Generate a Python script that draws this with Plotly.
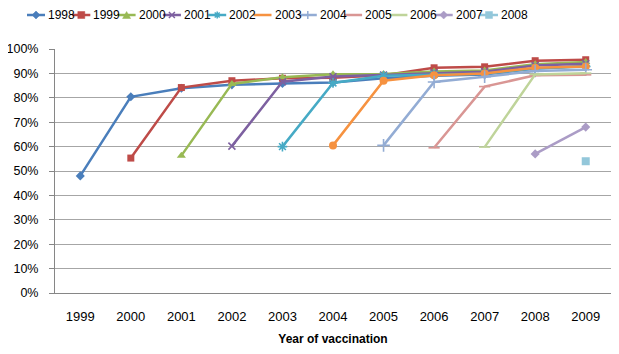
import plotly.graph_objects as go

years = ["1999", "2000", "2001", "2002", "2003", "2004", "2005", "2006", "2007", "2008", "2009"]
series_names = ["1998", "1999", "2000", "2001", "2002", "2003", "2004", "2005", "2006", "2007", "2008"]

N = None
s1998 = [48.0, 80.4, 83.9, 85.3, 85.9, 86.3, 88.0, 89.0, 89.5, 92.0, 93.0]
s1999 = [N, 55.3, 84.2, 87.0, 88.0, 88.2, 89.2, 92.3, 92.7, 95.2, 95.6]
s2000 = [N, N, 56.3, 85.7, 88.4, 89.7, 89.8, 90.8, 91.2, 93.8, 94.7]
s2001 = [N, N, N, 60.2, 86.6, 88.7, 89.3, 90.2, 90.7, 93.2, 94.0]
s2002 = [N, N, N, N, 60.0, 86.1, 89.0, 89.6, 89.9, 92.0, 92.8]
s2003 = [N, N, N, N, N, 60.5, 87.0, 89.2, 90.0, 92.3, 92.8]
s2004 = [N, N, N, N, N, N, 60.5, 86.5, 88.6, 91.0, 91.5]
s2005 = [N, N, N, N, N, N, N, 59.5, 84.6, 89.2, 89.4]
s2006 = [N, N, N, N, N, N, N, N, 59.8, 89.6, 90.1]
s2007 = [N, N, N, N, N, N, N, N, N, 57.0, 68.0]
s2008 = [N, N, N, N, N, N, N, N, N, N, 54.0]
values = [s1998, s1999, s2000, s2001, s2002, s2003, s2004, s2005, s2006, s2007, s2008]

y_ticks = [0, 10, 20, 30, 40, 50, 60, 70, 80, 90, 100]
y_ticklabels = ["0%", "10%", "20%", "30%", "40%", "50%", "60%", "70%", "80%", "90%", "100%"]

colors = ["#4A7EBB", "#BE4B48", "#98B954", "#7D60A0", "#46AAC5", "#F69240",
          "#93ACD4", "#D99694", "#BFD49A", "#AB9CC6", "#93C7DA"]
symbols = ["diamond", "square", "triangle-up", "x-thin", "asterisk", "circle",
           "cross-thin", "line-ew", "line-ew", "diamond", "square"]
sizes = [7, 7, 8, 7, 8, 8, 9, 8, 8, 7, 8]

FONT = "Liberation Sans"
# the page body has an 8px margin on every side: keep the figure inside it
OFF = 8
W, H = 619 - 2 * OFF, 354 - 2 * OFF
L_PX, R_PX, T_PX, B_PX = 55 - OFF, 611 - OFF, 49 - OFF, 293 - OFF
mt, mb = 0, H - B_PX
plot_h = H - mt - mb

fig = go.Figure()

def marker_for(i):
    sym = symbols[i]
    m = dict(symbol=sym, size=sizes[i], color=colors[i])
    if sym in ("x-thin", "asterisk", "cross-thin", "line-ew"):
        m["line"] = dict(color=colors[i], width=1.6)
    else:
        m["line"] = dict(color=colors[i], width=0)
    return m

for i, name in enumerate(series_names):
    fig.add_trace(go.Scatter(
        x=years, y=values[i], name=name, mode="lines+markers",
        line=dict(color=colors[i], width=2.5),
        marker=marker_for(i), connectgaps=False, showlegend=False,
    ))

# custom single-row legend (layout shapes in paper coordinates)
leg_x0, leg_step, leg_len, leg_y = 27 - OFF, 45.3, 18, 15 - OFF
py = (B_PX - leg_y) / plot_h

legend_paths = {
    "diamond": ("M0,4 L4,0 L0,-4 L-4,0 Z", True),
    "square": ("M-3.5,-3.5 H3.5 V3.5 H-3.5 Z", True),
    "triangle-up": ("M-4,-3.5 L4,-3.5 L0,3.5 Z", True),
    "x-thin": ("M-3,-3 L3,3 M-3,3 L3,-3", False),
    "asterisk": ("M-3.5,0 H3.5 M0,-3.5 V3.5 M-2.5,-2.5 L2.5,2.5 M-2.5,2.5 L2.5,-2.5", False),
    "circle": ("M3.5,0 A3.5,3.5 0 1,1 -3.5,0 A3.5,3.5 0 1,1 3.5,0 Z", True),
    "cross-thin": ("M-4,0 H4 M0,-4 V4", False),
}

for i, name in enumerate(series_names):
    x0 = leg_x0 + leg_step * i
    fig.add_shape(type="line", xref="paper", yref="paper",
                  x0=x0 / W, x1=(x0 + leg_len) / W, y0=py, y1=py,
                  line=dict(color=colors[i], width=2.5))
    sym = symbols[i]
    if sym in legend_paths:
        path, filled = legend_paths[sym]
        fig.add_shape(type="path", xref="paper", yref="paper",
                      xsizemode="pixel", ysizemode="pixel",
                      xanchor=(x0 + leg_len / 2) / W, yanchor=py, path=path,
                      fillcolor=colors[i] if filled else None,
                      line=dict(color=colors[i], width=1.5 if not filled else 0.5))
    fig.add_annotation(x=(x0 + leg_len + 1) / W, y=py, xref="paper", yref="paper", text=name,
                       showarrow=False, xanchor="left", yanchor="middle",
                       font=dict(family=FONT, size=12, color="#000000"))

fig.update_layout(
    width=W, height=H,
    margin=dict(l=0, r=0, t=mt, b=mb, pad=0, autoexpand=False),
    paper_bgcolor="white", plot_bgcolor="white",
    showlegend=False,
    font=dict(family=FONT, size=12.5, color="#000000"),
    xaxis=dict(
        type="category", categoryorder="array", categoryarray=years,
        range=[-0.5, 10.5], domain=[L_PX / W, R_PX / W],
        showgrid=False, showline=True, linecolor="#868686", linewidth=1,
        ticks="", ticklabelstandoff=11, automargin=False,
        tickfont=dict(family=FONT, size=13, color="#000000"),
        title=dict(text="<b>Year of vaccination</b>", standoff=14,
                   font=dict(family=FONT, size=12, color="#000000")),
        zeroline=False,
    ),
    yaxis=dict(
        range=[0, 100], tickvals=y_ticks, ticktext=y_ticklabels,
        domain=[0, (B_PX - T_PX) / plot_h], automargin=False,
        showgrid=True, gridcolor="#A6A6A6", gridwidth=1,
        showline=True, linecolor="#868686", linewidth=1,
        ticks="outside", ticklen=5, tickcolor="#868686", ticklabelstandoff=8,
        tickfont=dict(family=FONT, size=12.5, color="#000000"),
        zeroline=False,
    ),
)

fig.write_html("out.html")
